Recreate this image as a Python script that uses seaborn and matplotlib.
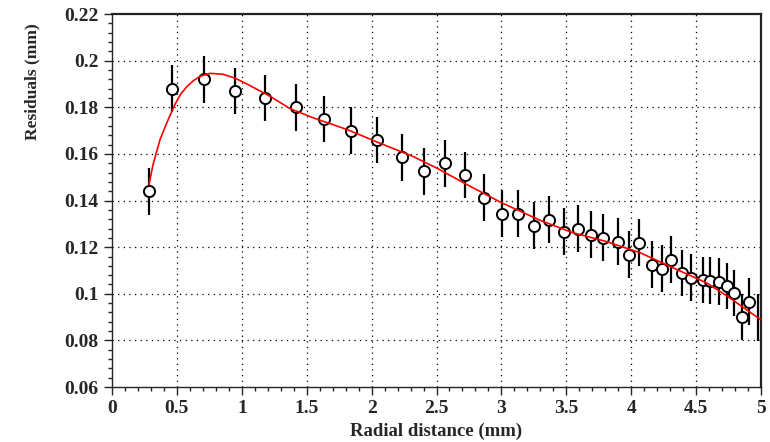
import numpy as np
import pandas as pd
import matplotlib
matplotlib.use("Agg")
import matplotlib.pyplot as plt
import seaborn as sns
from matplotlib.ticker import MultipleLocator

# Measured residuals with their uncertainties
radius = [0.285, 0.462, 0.709, 0.948, 1.179, 1.417, 1.633, 1.841, 2.04, 2.234,
          2.404, 2.566, 2.72, 2.866, 3.005, 3.128, 3.251, 3.367, 3.482, 3.59,
          3.69, 3.78, 3.90, 3.98, 4.06, 4.16, 4.24, 4.31, 4.39, 4.46,
          4.55, 4.61, 4.68, 4.74, 4.79, 4.85, 4.91, 4.977]
residual = [0.144, 0.188, 0.192, 0.187, 0.184, 0.180, 0.175, 0.170, 0.166, 0.1585,
            0.1525, 0.156, 0.151, 0.1413, 0.1344, 0.1344, 0.1292, 0.1318, 0.1267, 0.128,
            0.1254, 0.1241, 0.1224, 0.1168, 0.1219, 0.1125, 0.1108, 0.1146, 0.109, 0.1069,
            0.106, 0.1056, 0.1052, 0.1034, 0.1004, 0.0901, 0.0966, 0.0897]
residual_err = [0.010, 0.010, 0.010, 0.010, 0.010, 0.010, 0.010, 0.010, 0.010, 0.010,
                0.010, 0.010, 0.010, 0.010, 0.010, 0.010, 0.010, 0.010, 0.010, 0.010,
                0.010, 0.010, 0.010, 0.010, 0.010, 0.010, 0.010, 0.010, 0.010, 0.010,
                0.010, 0.010, 0.010, 0.010, 0.010, 0.010, 0.010, 0.010]

# Fitted model curve
fit_radius = [0.285, 0.316, 0.37, 0.423, 0.485, 0.53, 0.578, 0.628, 0.678, 0.755,
              0.855, 0.95, 1.04, 1.22, 1.37, 1.55, 1.81, 2.07, 2.32, 2.50,
              2.72, 3.0, 3.30, 3.55, 3.81, 4.07, 4.32, 4.58, 4.74, 4.88, 5.0]
fit_residual = [0.147, 0.1555, 0.1662, 0.1735, 0.1813, 0.1858, 0.189, 0.1915, 0.1933, 0.1946,
                0.1942, 0.1925, 0.190, 0.1847, 0.1795, 0.1755, 0.1705, 0.1645, 0.1589, 0.1540,
                0.1473, 0.1391, 0.1315, 0.1262, 0.1224, 0.1176, 0.1112, 0.1047, 0.0990, 0.0935,
                0.0888]

x_ticks = [0, 0.5, 1, 1.5, 2, 2.5, 3, 3.5, 4, 4.5, 5]
x_tick_labels = ["0", "0.5", "1", "1.5", "2", "2.5", "3", "3.5", "4", "4.5", "5"]
y_ticks = [0.06, 0.08, 0.1, 0.12, 0.14, 0.16, 0.18, 0.2, 0.22]
y_tick_labels = ["0.06", "0.08", "0.1", "0.12", "0.14", "0.16", "0.18", "0.2", "0.22"]

data = pd.DataFrame({"r": radius, "res": residual, "err": residual_err})
fit = pd.DataFrame({"r": fit_radius, "res": fit_residual})

sns.set_style("ticks")
plt.rcParams["font.family"] = ["Liberation Serif", "DejaVu Serif"]
plt.rcParams["font.weight"] = "bold"

fig = plt.figure(figsize=(7.7, 4.42), dpi=100)
ax = fig.add_axes([0.1455, 0.1244, 0.8428, 0.8436])

# dotted grid at major ticks
for xv in x_ticks[1:-1]:
    ax.axvline(xv, color="black", lw=0.9, ls=(0, (1, 3.5)), zorder=0)
for yv in y_ticks[1:-1]:
    ax.axhline(yv, color="black", lw=0.9, ls=(0, (1, 3.5)), zorder=0)

ax.errorbar(data["r"], data["res"], yerr=data["err"], fmt="none",
            ecolor="black", elinewidth=1.6, capsize=0, zorder=2)

# markers for points lying fully inside the frame
inside = data[data["r"] < 4.95]
sns.scatterplot(data=inside, x="r", y="res", ax=ax, marker="o", s=64,
                facecolor="white", edgecolor="black", linewidth=1.4, zorder=3)

sns.lineplot(data=fit, x="r", y="res", ax=ax, color="red", lw=1.2,
             zorder=4, sort=True)

ax.set_xlim(0, 5)
ax.set_ylim(0.06, 0.22)
ax.set_xticks(x_ticks)
ax.set_xticklabels(x_tick_labels)
ax.set_yticks(y_ticks)
ax.set_yticklabels(y_tick_labels)
ax.xaxis.set_minor_locator(MultipleLocator(0.1))
ax.yaxis.set_minor_locator(MultipleLocator(0.004))
ax.tick_params(which="major", direction="out", length=5.5, width=1.0,
               labelsize=14, pad=4, top=False, right=False)
ax.tick_params(which="minor", direction="out", length=3.2, width=1.0,
               top=False, right=False)
for lab in ax.get_xticklabels() + ax.get_yticklabels():
    lab.set_fontweight("bold")

ax.set_xlabel("Radial distance (mm)", fontsize=13.5, fontweight="bold", labelpad=4)
ax.set_ylabel("Residuals (mm)", fontsize=12.5, fontweight="bold")
ax.yaxis.set_label_coords(-0.11, 0.82)

for side in ["left", "bottom"]:
    ax.spines[side].set_linewidth(1.0)
for side in ["top", "right"]:
    ax.spines[side].set_visible(True)
    ax.spines[side].set_linewidth(1.6)
    ax.spines[side].set_color("#222222")

fig.savefig("out.png", dpi=100)
